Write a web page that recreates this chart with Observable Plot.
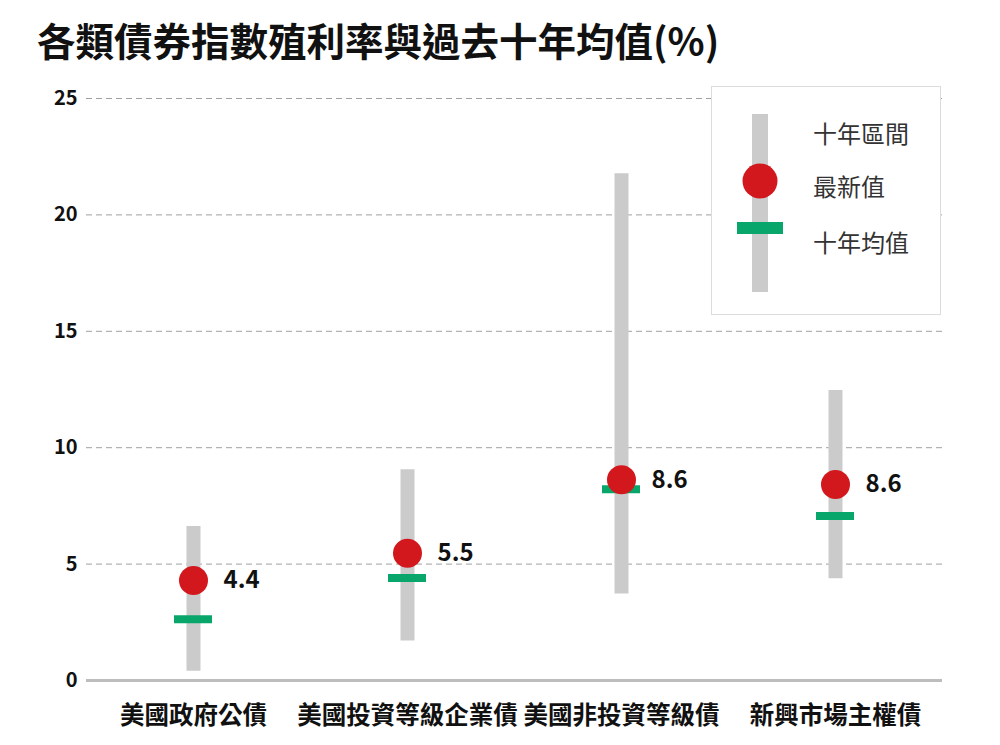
<!DOCTYPE html>
<html><head><meta charset="utf-8">
<script src="https://cdn.jsdelivr.net/npm/d3@7"></script>
<script src="https://cdn.jsdelivr.net/npm/@observablehq/plot@0.6"></script>
<style>
html,body{margin:0;padding:0;background:#fff;}
body{width:1000px;height:745px;position:relative;overflow:hidden;font-family:"Noto Sans CJK TC","Noto Sans",sans-serif;}
#title{position:absolute;left:37px;top:20px;font-size:38.5px;font-weight:700;color:#111;line-height:1;white-space:nowrap;}
#chart{position:absolute;left:0;top:80px;}
#legend{position:absolute;left:711px;top:86px;width:228px;height:227px;border:1.5px solid #dcdcdc;background:#fff;}
</style></head>
<body>
<div id="title">各類債券指數殖利率與過去十年均值(%)</div>
<div id="chart"></div>
<div id="legend"></div>
<script>
const categories = ["美國政府公債","美國投資等級企業債","美國非投資等級債","新興市場主權債"];
const rangeLow  = [0.40, 1.70, 3.72, 4.37];
const rangeHigh = [6.61, 9.05, 21.77, 12.46];
const latest    = [4.30, 5.47, 8.62, 8.42];
const avg10     = [2.63, 4.40, 8.22, 7.07];
const latestLabels = ["4.4","5.5","8.6","8.6"];
const yTicks = [0,5,10,15,20,25];
const legendItems = ["十年區間","最新值","十年均值"];

const data = categories.map((c,i)=>({name:c, lo:rangeLow[i], hi:rangeHigh[i], latest:latest[i], avg:avg10[i], label:latestLabels[i]}));

const GRAY="#cbcbcb", RED="#d2171d", GREEN="#08a66b";

const chart = Plot.plot({
  width:1000, height:665,
  marginLeft:86, marginRight:58, marginTop:18, marginBottom:65,
  style:{fontFamily:'"Noto Sans CJK TC","Noto Sans",sans-serif', color:"#111", background:"transparent"},
  x:{domain:categories, paddingInner:0.822, paddingOuter:0.411, label:null},
  y:{domain:[0,25], label:null},
  marks:[
    Plot.gridY(yTicks.filter(d=>d>0), {stroke:"#a0a0a0", strokeOpacity:1, strokeDasharray:"6,4", strokeWidth:1}),
    Plot.ruleY([0], {stroke:"#bdbdbd", strokeWidth:3, inset:0}),
    Plot.axisY(yTicks, {tickSize:0, tickPadding:9, fontSize:20, fontWeight:700, label:null}),
    Plot.axisX({tickSize:0, tickPadding:26, fontSize:24.5, fontWeight:700, label:null}),
    Plot.ruleX(data, {x:"name", y1:"lo", y2:"hi", stroke:GRAY, strokeWidth:14}),
    Plot.tickY(data, {x:"name", y:"avg", stroke:GREEN, strokeWidth:8}),
    Plot.dot(data, {x:"name", y:"latest", r:14.5, fill:RED}),
    Plot.text(data, {x:"name", y:"latest", text:"label", dx:30, textAnchor:"start", fontSize:24, fontWeight:600, fill:"#111"})
  ]
});
document.getElementById("chart").appendChild(chart);

// legend
const lg = d3.select("#legend").append("svg").attr("width",228).attr("height",227);
lg.append("rect").attr("x",40).attr("y",27).attr("width",16).attr("height",178).attr("fill",GRAY);
lg.append("circle").attr("cx",48).attr("cy",94).attr("r",17.5).attr("fill",RED);
lg.append("rect").attr("x",25).attr("y",135).attr("width",46).attr("height",12).attr("fill",GREEN);
const ly=[48,101,157];
legendItems.forEach((t,i)=>{
  lg.append("text").attr("x",101).attr("y",ly[i]).attr("dy","0.35em")
    .attr("font-size",24).attr("fill","#333").attr("font-family",'"Noto Sans CJK TC",sans-serif').text(t);
});
</script>
</body></html>
